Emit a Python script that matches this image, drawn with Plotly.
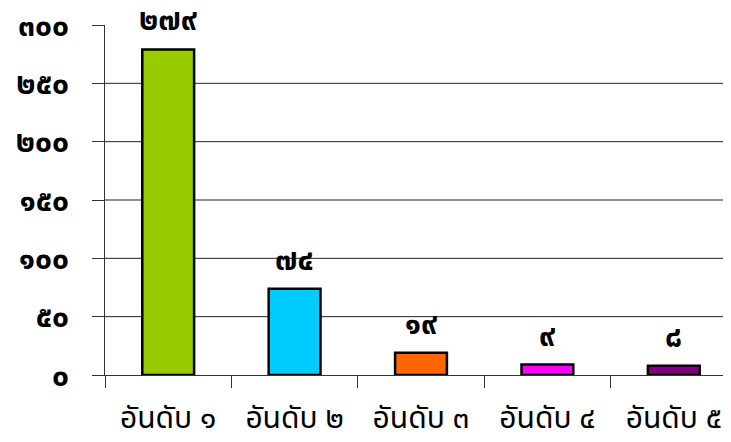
import plotly.graph_objects as go

categories = ["อันดับ ๑", "อันดับ ๒", "อันดับ ๓", "อันดับ ๔", "อันดับ ๕"]
values = [279, 74, 19, 9, 8]
colors = ["#99CC00", "#00CCFF", "#FF6600", "#FF00FF", "#800080"]
y_ticks = [0, 50, 100, 150, 200, 250, 300]

THAI = str.maketrans("0123456789", "๐๑๒๓๔๕๖๗๘๙")
def thai(n):
    return str(n).translate(THAI)

FONT = "Noto Sans Thai, Loma, Garuda, Tahoma, sans-serif"

fig = go.Figure(go.Bar(
    x=categories, y=values,
    marker=dict(color=colors, line=dict(color="black", width=2.5)),
    width=0.41,
    hoverinfo="skip",
))

for c, v in zip(categories, values):
    fig.add_annotation(x=c, y=v, text="<b>" + thai(v) + "</b>", showarrow=False,
                       yanchor="bottom", yshift=3, font=dict(size=30, color="black", family=FONT))

for t in y_ticks[1:-1]:
    fig.add_shape(type="line", xref="paper", x0=0, x1=1, y0=t, y1=t,
                  line=dict(color="#222222", width=1), layer="below")

fig.update_layout(
    width=731, height=442,
    margin=dict(l=97, r=2, t=17, b=75, autoexpand=False),
    plot_bgcolor="white", paper_bgcolor="white",
    showlegend=False,
    font=dict(family=FONT, color="black"),
)
fig.update_xaxes(
    automargin=False,
    showline=True, linecolor="#333333", linewidth=1,
    ticks="outside", ticklen=12, tickcolor="#333333", tickson="boundaries",
    tickfont=dict(size=30, family=FONT, color="black"),
    ticklabelstandoff=16,
    ticklabeloverflow="allow",
    showgrid=False, zeroline=False,
)
fig.update_yaxes(
    automargin=False,
    range=[0, 300], tickvals=y_ticks, ticktext=["<b>" + thai(t) + "</b>" for t in y_ticks],
    showline=True, linecolor="#333333", linewidth=1,
    ticks="outside", ticklen=12, tickcolor="#333333",
    tickfont=dict(size=30, family=FONT, color="black"),
    ticklabelstandoff=17,
    ticklabeloverflow="allow",
    showgrid=False, zeroline=False,
)

fig.write_html("out.html")
